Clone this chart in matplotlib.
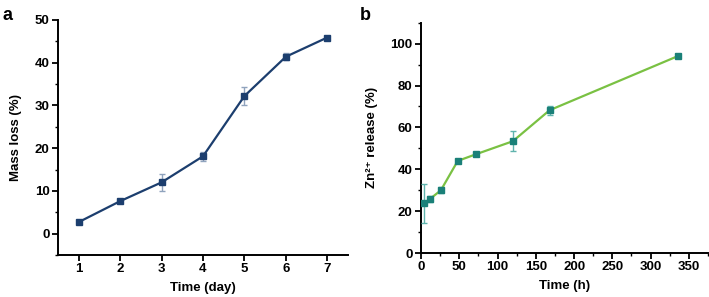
import matplotlib
matplotlib.use("Agg")
import matplotlib.pyplot as plt
from matplotlib.ticker import MultipleLocator

plt.rcParams['font.family'] = ['Liberation Sans', 'DejaVu Sans']
plt.rcParams['font.weight'] = 'bold'

# Panel a data
days = [1, 2, 3, 4, 5, 6, 7]
mass_loss = [2.7, 7.6, 12.0, 18.1, 32.2, 41.4, 45.9]
mass_err = [0.3, 0.3, 2.0, 1.0, 2.2, 0.8, 0.3]

# Panel b data
hours = [4, 12, 26, 48, 72, 120, 168, 336]
zn_release = [23.7, 25.9, 30.0, 44.0, 47.2, 53.4, 68.2, 94.1]
zn_err = [9.2, 1.5, 1.5, 0.8, 0.5, 4.9, 2.2, 1.0]

fig = plt.figure(figsize=(7.09, 2.97), dpi=100)
axa = fig.add_axes([0.0818, 0.1414, 0.409, 0.7913])
axb = fig.add_axes([0.5938, 0.148, 0.4048, 0.7756])

tick_fs = 9.5
label_fs = 9.5

for ax in (axa, axb):
    for s in ('top', 'right'):
        ax.spines[s].set_visible(False)
    for s in ('left', 'bottom'):
        ax.spines[s].set_linewidth(1.4)
    ax.tick_params(which='major', direction='out', length=4, width=1.3, labelsize=tick_fs, pad=2)
    ax.tick_params(which='minor', direction='out', length=2.5, width=1.0)

# Panel a
navy = '#1c3e6e'
axa.errorbar(days, mass_loss, yerr=mass_err, color=navy, lw=1.6, marker='s', ms=5,
             ecolor='#8fa3bd', elinewidth=1.0, capsize=2.5, capthick=1.0, zorder=3)
axa.set_xlim(0.5, 7.5)
axa.set_ylim(-5, 50)
axa.xaxis.set_major_locator(MultipleLocator(1))
axa.yaxis.set_major_locator(MultipleLocator(10))
axa.yaxis.set_minor_locator(MultipleLocator(5))
axa.set_xlabel('Time (day)', fontsize=label_fs, fontweight='bold', labelpad=5)
axa.set_ylabel('Mass loss (%)', fontsize=label_fs, fontweight='bold', labelpad=9)

# Panel b
axb.errorbar(hours, zn_release, yerr=zn_err, color='#7ac143', lw=1.6, marker='s', ms=5,
             mfc='#1a8078', mec='#1a8078', ecolor='#5fb3ad', elinewidth=1.0,
             capsize=2.5, capthick=1.0, zorder=3)
axb.set_xlim(0, 375)
axb.set_ylim(0, 110)
axb.xaxis.set_major_locator(MultipleLocator(50))
axb.xaxis.set_minor_locator(MultipleLocator(25))
axb.yaxis.set_major_locator(MultipleLocator(20))
axb.yaxis.set_minor_locator(MultipleLocator(10))
axb.set_xlabel('Time (h)', fontsize=label_fs, fontweight='bold', labelpad=5)
axb.set_ylabel('Zn\u00b2\u207a release (%)', fontsize=label_fs, fontweight='bold', labelpad=9)

for ax in (axa, axb):
    for lab in ax.get_xticklabels() + ax.get_yticklabels():
        lab.set_fontweight('bold')

fig.text(0.003, 0.975, 'a', fontsize=13, fontweight='bold', va='top', ha='left')
fig.text(0.508, 0.975, 'b', fontsize=13, fontweight='bold', va='top', ha='left')

fig.savefig('out.png', dpi=100)
